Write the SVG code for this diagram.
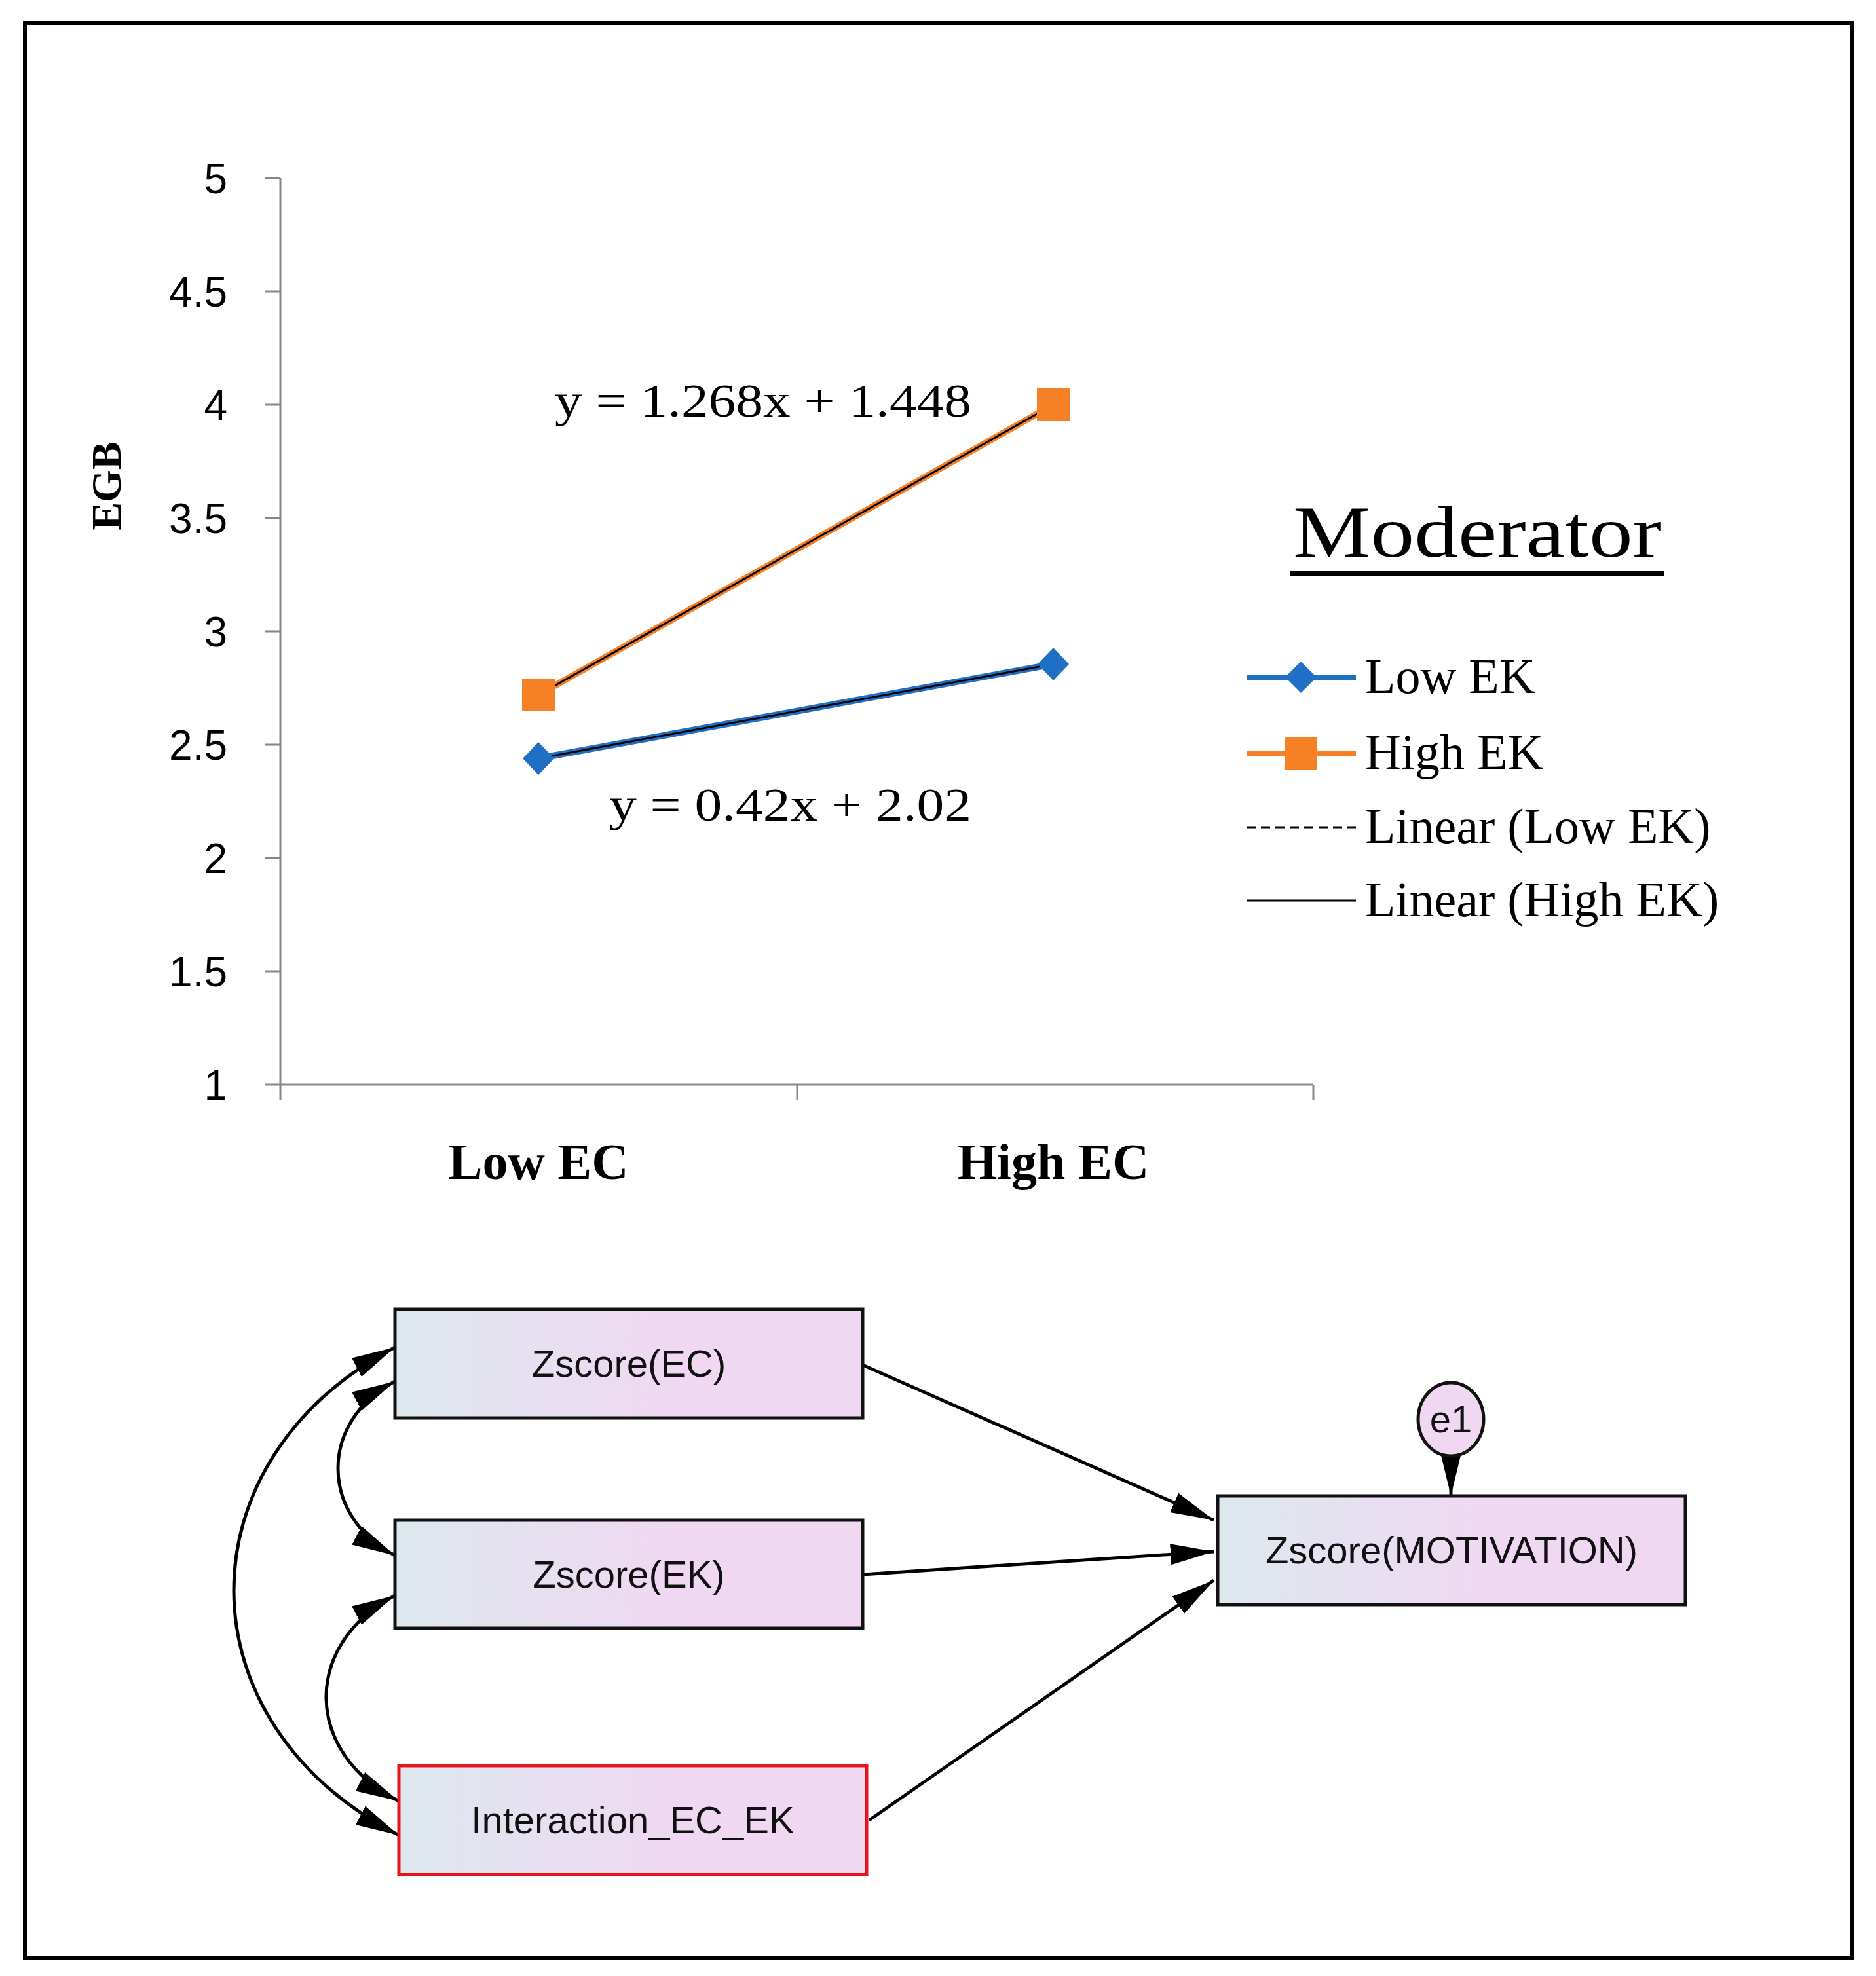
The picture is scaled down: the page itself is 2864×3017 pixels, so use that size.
<svg xmlns="http://www.w3.org/2000/svg" width="2864" height="3017" viewBox="0 0 2864 3017">
<style>
.tick{font-family:"Liberation Sans",Arial,sans-serif;font-size:64px;fill:#000;text-anchor:end}
.ser{font-family:"Liberation Serif","Times New Roman",serif;fill:#000}
.node text{font-family:"Liberation Sans",Arial,sans-serif;font-size:58px;fill:#111;text-anchor:middle}
.box{fill:url(#g);stroke:#111;stroke-width:5}
.ax{stroke:#888;stroke-width:3;fill:none}
.con{stroke:#000;stroke-width:5;fill:none}
</style>
<defs>
<linearGradient id="g" x1="0" x2="1" y1="0" y2="0"><stop offset="0" stop-color="#dde8ee"/><stop offset="0.6" stop-color="#f0d8f2"/><stop offset="1" stop-color="#f0d8f2"/></linearGradient>
<marker id="a" markerUnits="userSpaceOnUse" markerWidth="70" markerHeight="40" refX="66" refY="20" orient="auto-start-reverse" viewBox="0 0 70 40"><path d="M0,4 L66,20 L0,36 z" fill="#000"/></marker>
</defs>
<rect x="38" y="35" width="2790" height="2954" fill="#fff" stroke="#000" stroke-width="6"/>
<g id="chart">
<path class="ax" d="M428,272 V1656 H2005 M404,272 H428 M404,445 H428 M404,618 H428 M404,791 H428 M404,964 H428 M404,1137 H428 M404,1310 H428 M404,1483 H428 M404,1656 H428 M428,1656 V1680 M1217,1656 V1680 M2005,1656 V1680"/>
<text class="tick" x="347" y="295">5</text>
<text class="tick" x="347" y="468">4.5</text>
<text class="tick" x="347" y="641">4</text>
<text class="tick" x="347" y="814">3.5</text>
<text class="tick" x="347" y="987">3</text>
<text class="tick" x="347" y="1160">2.5</text>
<text class="tick" x="347" y="1333">2</text>
<text class="tick" x="347" y="1506">1.5</text>
<text class="tick" x="347" y="1679">1</text>
<text class="ser" transform="translate(184,742) rotate(-90)" text-anchor="middle" font-size="64" font-weight="bold">EGB</text>
<text class="ser" x="822" y="1800" text-anchor="middle" font-size="78" font-weight="bold">Low EC</text>
<text class="ser" x="1608" y="1800" text-anchor="middle" font-size="78" font-weight="bold">High EC</text>
<line x1="822" y1="1061" x2="1608" y2="618" stroke="#f58025" stroke-width="10"/>
<line x1="822" y1="1061" x2="1608" y2="618" stroke="#000" stroke-width="3"/>
<line x1="822" y1="1158" x2="1608" y2="1014" stroke="#1f6fc5" stroke-width="10"/>
<line x1="822" y1="1158" x2="1608" y2="1014" stroke="#000" stroke-width="3"/>
<rect x="797" y="1036" width="50" height="50" fill="#f58025"/>
<rect x="1583" y="593" width="50" height="50" fill="#f58025"/>
<path d="M822,1133 L846,1158 L822,1183 L798,1158 z" fill="#1f6fc5"/>
<path d="M1608,989 L1632,1014 L1608,1039 L1584,1014 z" fill="#1f6fc5"/>
<text class="ser" x="847" y="636" font-size="72" textLength="636" lengthAdjust="spacingAndGlyphs">y = 1.268x + 1.448</text>
<text class="ser" x="930" y="1253" font-size="72" textLength="553" lengthAdjust="spacingAndGlyphs">y = 0.42x + 2.02</text>
<text class="ser" x="1974" y="850" font-size="112" textLength="563" lengthAdjust="spacingAndGlyphs">Moderator</text>
<rect x="1970" y="872" width="570" height="8" fill="#000"/>
<line x1="1903" y1="1034" x2="2070" y2="1034" stroke="#1f6fc5" stroke-width="8"/>
<path d="M1986,1010 L2010,1034 L1986,1058 L1962,1034 z" fill="#1f6fc5"/>
<text class="ser" x="2084" y="1058" font-size="76">Low EK</text>
<line x1="1903" y1="1150" x2="2070" y2="1150" stroke="#f58025" stroke-width="8"/>
<rect x="1961" y="1125" width="50" height="50" fill="#f58025"/>
<text class="ser" x="2084" y="1174" font-size="76">High EK</text>
<line x1="1903" y1="1263" x2="2070" y2="1263" stroke="#000" stroke-width="3" stroke-dasharray="14,8"/>
<text class="ser" x="2084" y="1287" font-size="76">Linear (Low EK)</text>
<line x1="1903" y1="1375" x2="2070" y2="1375" stroke="#000" stroke-width="3"/>
<text class="ser" x="2084" y="1399" font-size="76">Linear (High EK)</text>
</g>
<g id="connectors">
<path class="con" d="M1317,2084 L1853,2321" marker-end="url(#a)"/>
<path class="con" d="M1317,2404 L1853,2369" marker-end="url(#a)"/>
<path class="con" d="M1327,2779 L1853,2413" marker-end="url(#a)"/>
<path class="con" d="M2215,2225 L2215,2284" marker-end="url(#a)"/>
<path class="con" d="M603,2057 C274,2230 274,2630 609,2802" marker-start="url(#a)" marker-end="url(#a)"/>
<path class="con" d="M603,2109 C487,2170 487,2314 603,2375" marker-start="url(#a)" marker-end="url(#a)"/>
<path class="con" d="M603,2436 C462,2510 462,2676 609,2750" marker-start="url(#a)" marker-end="url(#a)"/>
</g>
<g id="n-ec" class="node"><rect class="box" x="603" y="1999" width="714" height="166"/><text x="960" y="2102">Zscore(EC)</text></g>
<g id="n-ek" class="node"><rect class="box" x="603" y="2321" width="714" height="165"/><text x="960" y="2424">Zscore(EK)</text></g>
<g id="n-int" class="node"><rect class="box" x="609" y="2696" width="714" height="166" style="stroke:#e8141c"/><text x="966" y="2799">Interaction_EC_EK</text></g>
<g id="n-mot" class="node"><rect class="box" x="1859" y="2284" width="714" height="166"/><text x="2216" y="2387">Zscore(MOTIVATION)</text></g>
<g id="n-e1" class="node"><ellipse cx="2215" cy="2167" rx="50" ry="56" fill="#f0d8f2" stroke="#111" stroke-width="5"/><text x="2215" y="2187">e1</text></g>
</svg>
